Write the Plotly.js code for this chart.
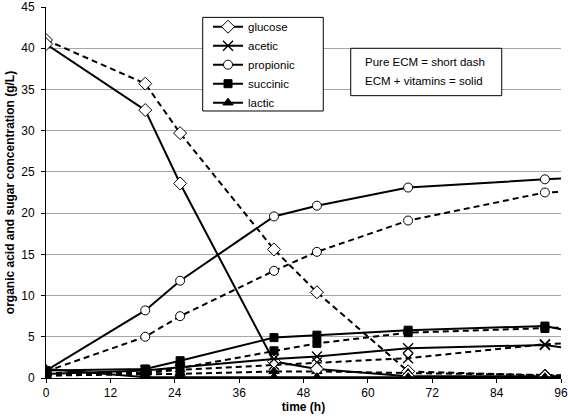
<!DOCTYPE html>
<html>
<head>
<meta charset="utf-8">
<script src="https://cdn.plot.ly/plotly-3.0.1.min.js"></script>
<style>
html,body{margin:0;padding:0;background:#fff;}
#chart{width:568px;height:420px;}
</style>
</head>
<body>
<div id="chart"></div>
<script>
// sampling times (h); the last one lies beyond the axis end and is clipped
const time = [0, 18.5, 25, 42.5, 50.5, 67.5, 93, 100];

// ECM + vitamins (solid)
const glucoseSolid   = [40.5, 32.5, 23.6, 2.0, 1.1, 0.2, 0.2, 0.2];
const aceticSolid    = [0.5, 0.9, 1.3, 2.3, 2.6, 3.6, 4.0, 3.4];
const propionicSolid = [0.9, 8.2, 11.8, 19.6, 20.9, 23.1, 24.1, 24.3];
const succinicSolid  = [0.9, 1.1, 2.1, 4.9, 5.2, 5.8, 6.3, 5.4];
const lacticSolid    = [1.1, 0.1, 0.1, 0.1, 0.1, 0.1, 0.1, 0.1];

// Pure ECM (short dash)
const glucoseDash   = [41.0, 35.7, 29.7, 15.6, 10.4, 0.8, 0.3, 0.3];
const aceticDash    = [0.3, 0.6, 1.0, 1.6, 1.9, 2.4, 4.1, 4.3];
const propionicDash = [0.8, 5.0, 7.5, 13.0, 15.3, 19.1, 22.5, 22.7];
const succinicDash  = [0.6, 0.6, 1.2, 3.3, 4.2, 5.5, 6.0, 6.2];
const lacticDash    = [0.3, 0.4, 0.5, 0.8, 0.8, 0.6, 0.3, 0.3];

const names = ['glucose', 'acetic', 'propionic', 'succinic', 'lactic'];
const xTicks = [0, 12, 24, 36, 48, 60, 72, 84, 96];
const yTicks = [0, 5, 10, 15, 20, 25, 30, 35, 40, 45];
const noteLines = ['Pure ECM = short dash', 'ECM + vitamins = solid'];

const markerStyles = {
  glucose:   {symbol: 'diamond', size: 10, color: '#ffffff', line: {color: '#000', width: 1}},
  acetic:    {symbol: 'x-thin-open', size: 10, color: '#000', line: {color: '#000', width: 1.3}},
  propionic: {symbol: 'circle', size: 9, color: '#ffffff', line: {color: '#000', width: 1}},
  succinic:  {symbol: 'square', size: 8, color: '#000', line: {color: '#000', width: 1}},
  lactic:    {symbol: 'triangle-up', size: 9, color: '#000', line: {color: '#000', width: 1}}
};

const solidSets = [glucoseSolid, aceticSolid, propionicSolid, succinicSolid, lacticSolid];
const dashSets  = [glucoseDash, aceticDash, propionicDash, succinicDash, lacticDash];

const traces = [];
names.forEach((n, i) => {
  traces.push({
    x: time, y: dashSets[i], name: n, type: 'scatter', mode: 'lines+markers',
    showlegend: false, cliponaxis: true,
    line: {color: '#000', width: 2, dash: '6px,4px'},
    marker: markerStyles[n]
  });
});
names.forEach((n, i) => {
  traces.push({
    x: time, y: solidSets[i], name: n, type: 'scatter', mode: 'lines+markers',
    showlegend: true, cliponaxis: true,
    line: {color: '#000', width: 2},
    marker: markerStyles[n]
  });
});

const fam = '"Liberation Sans", Arial, sans-serif';
const font = {family: fam, size: 12, color: '#000'};

const layout = {
  width: 568, height: 420,
  margin: {l: 46, r: 7, t: 7, b: 42},
  paper_bgcolor: '#fff', plot_bgcolor: '#fff',
  font: font,
  showlegend: true,
  legend: {
    x: 0.3146, y: 0.986, xanchor: 'left', yanchor: 'top',
    bgcolor: 'rgba(0,0,0,0)', borderwidth: 0,
    font: {family: fam, size: 11.5, color: '#000'},
    tracegroupgap: 0, traceorder: 'normal'
  },
  xaxis: {
    range: [0, 96], tickvals: xTicks, ticktext: xTicks.map(String),
    showgrid: false, zeroline: false,
    showline: true, linecolor: '#000', linewidth: 1,
    ticks: 'outside', ticklen: 4, tickcolor: '#000',
    tickfont: {family: fam, size: 12, color: '#000'},
    title: {text: '<b>time (h)</b>', font: {family: fam, size: 12, color: '#000'}, standoff: 2}
  },
  yaxis: {
    range: [0, 45], tickvals: yTicks, ticktext: yTicks.map(String),
    showgrid: true, gridcolor: '#a6a6a6', gridwidth: 1, zeroline: false,
    showline: true, linecolor: '#000', linewidth: 1,
    ticks: 'outside', ticklen: 4, tickcolor: '#000', ticklabelstandoff: 4,
    tickfont: {family: fam, size: 12, color: '#000'},
    title: {text: '<b>organic acid and sugar concentration (g/L)</b>', font: {family: fam, size: 12, color: '#000'}, standoff: 4}
  },
  shapes: [
    {type: 'rect', xref: 'paper', yref: 'paper', x0: 0.3043, x1: 0.5384, y0: 0.7197, y1: 0.972,
     fillcolor: '#fff', line: {color: '#000', width: 1}, layer: 'above'},
    {type: 'rect', xref: 'paper', yref: 'paper', x0: 0.5917, x1: 0.8849, y0: 0.761, y1: 0.8887,
     fillcolor: '#fff', line: {color: '#000', width: 1}, layer: 'above'}
  ],
  annotations: noteLines.map((t, i) => ({
    xref: 'paper', yref: 'paper', x: 0.615, y: [0.852, 0.801][i], xanchor: 'left', yanchor: 'middle',
    text: t, align: 'left', showarrow: false,
    font: {family: fam, size: 11.5, color: '#000'}
  }))
};

Plotly.newPlot('chart', traces, layout, {displayModeBar: false, staticPlot: true});
</script>
</body>
</html>
